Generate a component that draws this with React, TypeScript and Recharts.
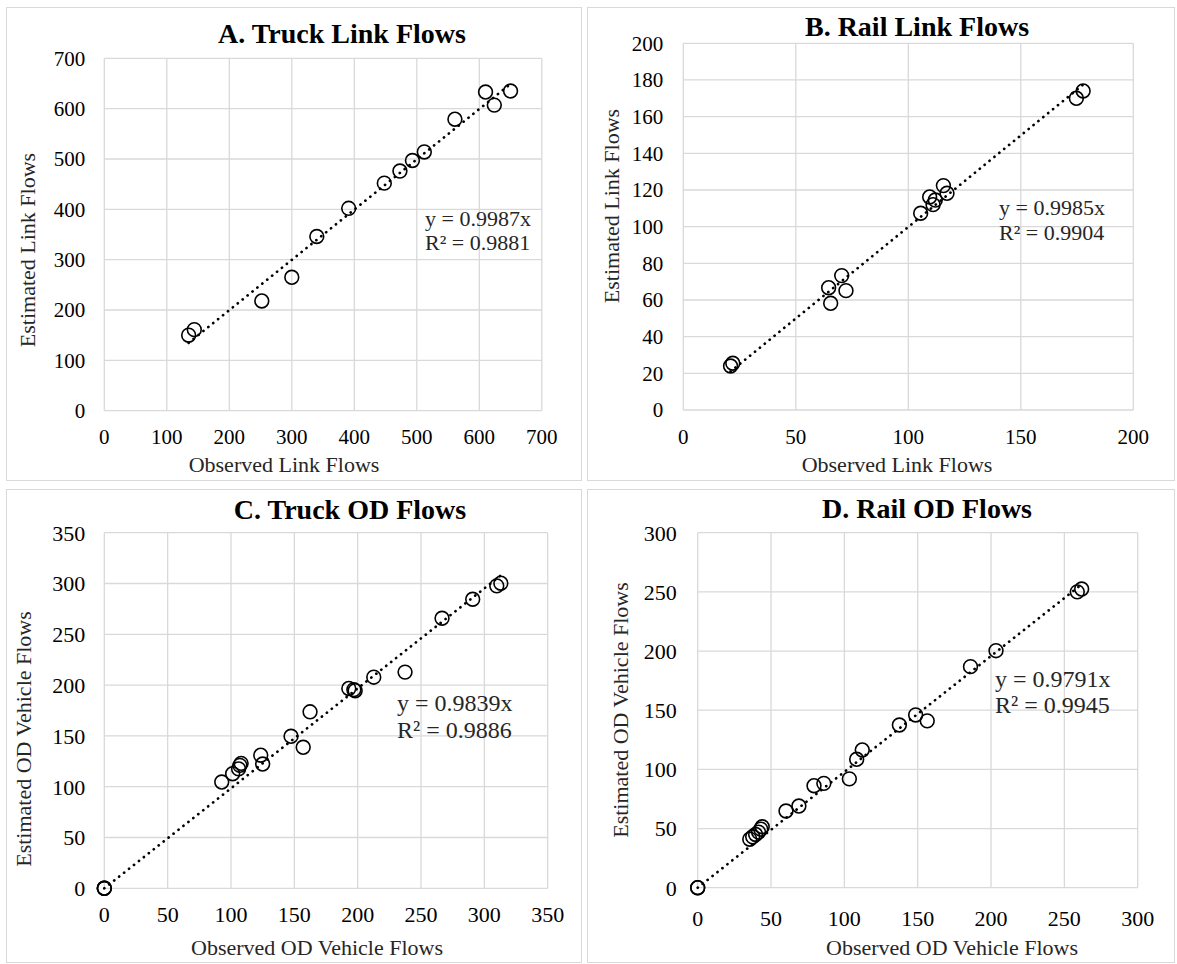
import React from 'react';
import { CartesianGrid, ReferenceLine, Scatter, ScatterChart, XAxis, YAxis } from 'recharts';

const FONT = '"Liberation Serif", "Times New Roman", Times, serif';
const GRID = '#d9d9d9';

// A. Truck link flows
const truckLinkObserved = [135, 144, 252, 300, 340, 391, 448, 473, 493, 512, 561, 610, 624, 650];
const truckLinkEstimated = [150, 161, 218, 265, 346, 402, 452, 476, 497, 514, 579, 633, 607, 635];
const truckLinkTicks = [0, 100, 200, 300, 400, 500, 600, 700];

// B. Rail link flows
const railLinkObserved = [21, 22, 64.6, 65.5, 70.4, 72.3, 105.5, 109.5, 111, 112, 115.6, 117.2, 174.7, 177.7];
const railLinkEstimated = [24, 25.5, 66.7, 58.2, 73.3, 65.1, 107.3, 116.2, 112, 114.5, 122.4, 118.2, 170, 174];
const railLinkXTicks = [0, 50, 100, 150, 200];
const railLinkYTicks = [0, 20, 40, 60, 80, 100, 120, 140, 160, 180, 200];

// C. Truck OD flows
const truckOdObserved = [0, 0, 0, 92.7, 101.3, 106, 107, 108, 123.5, 125, 147.4, 157, 162.4, 193, 197, 198, 212.7, 237.4, 266.6, 290.8, 309.8, 313];
const truckOdEstimated = [0, 0, 0, 104.6, 112.8, 117.5, 121, 123, 131, 122.3, 149.6, 138.8, 173.7, 196.7, 195.5, 194.5, 207.8, 212.8, 265.8, 284.5, 297.7, 300.3];
const truckOdTicks = [0, 50, 100, 150, 200, 250, 300, 350];

// D. Rail OD flows
const railOdObserved = [0, 0, 35.5, 37.5, 39.5, 41.5, 43, 44, 60.2, 69, 79.3, 86, 103.4, 108.4, 112.2, 137.5, 148.6, 156.5, 186, 203.4, 258.8, 261.8];
const railOdEstimated = [0, 0, 41, 43, 45, 47, 49.5, 51.5, 64.8, 69, 86.2, 88.2, 92, 108.5, 116.4, 137.5, 146, 141, 186.8, 200.3, 250, 252.4];
const railOdTicks = [0, 50, 100, 150, 200, 250, 300];

const titles = ['A. Truck Link Flows', 'B. Rail Link Flows', 'C. Truck OD Flows', 'D. Rail OD Flows'];
const xTitles = ['Observed Link Flows', 'Observed Link Flows', 'Observed OD Vehicle Flows', 'Observed OD Vehicle Flows'];
const yTitles = ['Estimated Link Flows', 'Estimated Link Flows', 'Estimated OD Vehicle Flows', 'Estimated OD Vehicle Flows'];
const slopes = [0.9987, 0.9985, 0.9839, 0.9791];
const rSquared = ['0.9881', '0.9904', '0.9886', '0.9945'];

const Y_W = 60;
const X_H = 40;

type Box = { left: number; top: number; w: number; h: number };
type Plot = { left: number; top: number; right: number; bottom: number };

interface PanelCfg {
  box: Box;
  plot: Plot;
  observed: number[];
  estimated: number[];
  xTicks: number[];
  yTicks: number[];
  xTickMargin: number;
  yTickMargin: number;
  tickFont: number;
  title: { x: number; y: number };
  xTitle: { x: number; y: number };
  yTitle: { x: number; y: number };
  eq: { x: number; y: number; size: number; gap: number };
}

const panels: PanelCfg[] = [
  {
    box: { left: 6, top: 7, w: 576, h: 474 },
    plot: { left: 104.3, top: 58.3, right: 541.8, bottom: 410.7 },
    observed: truckLinkObserved,
    estimated: truckLinkEstimated,
    xTicks: truckLinkTicks,
    yTicks: truckLinkTicks,
    xTickMargin: 18,
    yTickMargin: 19,
    tickFont: 21,
    title: { x: 342, y: 43 },
    xTitle: { x: 284, y: 472 },
    yTitle: { x: 35, y: 250 },
    eq: { x: 425, y: 226, size: 22, gap: 24 },
  },
  {
    box: { left: 587, top: 7, w: 588, h: 474 },
    plot: { left: 683.3, top: 43.3, right: 1133.3, bottom: 410 },
    observed: railLinkObserved,
    estimated: railLinkEstimated,
    xTicks: railLinkXTicks,
    yTicks: railLinkYTicks,
    xTickMargin: 19,
    yTickMargin: 20,
    tickFont: 21,
    title: { x: 917, y: 36 },
    xTitle: { x: 897, y: 472 },
    yTitle: { x: 619, y: 206 },
    eq: { x: 999, y: 215, size: 22, gap: 25 },
  },
  {
    box: { left: 6, top: 489, w: 576, h: 474 },
    plot: { left: 104.3, top: 532.7, right: 547.7, bottom: 888.3 },
    observed: truckOdObserved,
    estimated: truckOdEstimated,
    xTicks: truckOdTicks,
    yTicks: truckOdTicks,
    xTickMargin: 18,
    yTickMargin: 19,
    tickFont: 22,
    title: { x: 350, y: 519 },
    xTitle: { x: 317, y: 955 },
    yTitle: { x: 31, y: 739 },
    eq: { x: 397, y: 711, size: 24, gap: 26.5 },
  },
  {
    box: { left: 587, top: 489, w: 588, h: 474 },
    plot: { left: 697.7, top: 532.7, right: 1137.7, bottom: 887.7 },
    observed: railOdObserved,
    estimated: railOdEstimated,
    xTicks: railOdTicks,
    yTicks: railOdTicks,
    xTickMargin: 23,
    yTickMargin: 21,
    tickFont: 22,
    title: { x: 927, y: 518 },
    xTitle: { x: 952, y: 954.5 },
    yTitle: { x: 628, y: 710 },
    eq: { x: 995, y: 687, size: 24, gap: 26 },
  },
];

function Ring(props: any) {
  const { cx, cy } = props;
  if (cx == null || cy == null) return null;
  return <circle cx={cx} cy={cy} r={6.9} fill="none" stroke="#000" strokeWidth={1.6} />;
}

function makeTick(size: number, axis: 'x' | 'y') {
  return (props: any) => {
    const { x, y, payload } = props;
    return (
      <text
        x={x}
        y={y}
        dy={axis === 'x' ? '0.71em' : '0.355em'}
        textAnchor={axis === 'x' ? 'middle' : 'end'}
        fontFamily={FONT}
        fontSize={size}
        fill="#000"
      >
        {payload.value}
      </text>
    );
  };
}

function Panel({ cfg, slope }: { cfg: PanelCfg; slope: number }) {
  const { box, plot } = cfg;
  const points = cfg.observed.map((x, i) => ({ x, y: cfg.estimated[i] }));
  const xMin = Math.min(...cfg.observed);
  const xMax = Math.max(...cfg.observed);
  const margin = {
    left: plot.left - box.left - Y_W,
    top: plot.top - box.top,
    right: box.left + box.w - plot.right,
    bottom: box.top + box.h - plot.bottom - X_H,
  };
  return (
    <>
      <div
        style={{
          position: 'absolute',
          left: box.left,
          top: box.top,
          width: box.w,
          height: box.h,
          border: `1.5px solid ${GRID}`,
          boxSizing: 'border-box',
        }}
      />
      <div style={{ position: 'absolute', left: box.left, top: box.top }}>
        <ScatterChart width={box.w} height={box.h} margin={margin}>
          <CartesianGrid stroke={GRID} strokeWidth={1.3} />
          <XAxis
            type="number"
            dataKey="x"
            domain={[0, cfg.xTicks[cfg.xTicks.length - 1]]}
            ticks={cfg.xTicks}
            interval={0}
            height={X_H}
            tickLine={false}
            axisLine={false}
            tickSize={0}
            tickMargin={cfg.xTickMargin}
            tick={makeTick(cfg.tickFont, 'x')}
          />
          <YAxis
            type="number"
            dataKey="y"
            domain={[0, cfg.yTicks[cfg.yTicks.length - 1]]}
            ticks={cfg.yTicks}
            interval={0}
            width={Y_W}
            tickLine={false}
            axisLine={false}
            tickSize={0}
            tickMargin={cfg.yTickMargin}
            tick={makeTick(cfg.tickFont, 'y')}
          />
          <ReferenceLine
            segment={[
              { x: xMin, y: slope * xMin },
              { x: xMax, y: slope * xMax },
            ]}
            stroke="#000"
            strokeWidth={2.7}
            strokeDasharray="0.1 6.2"
            strokeLinecap="round"
          />
          <Scatter data={points} isAnimationActive={false} shape={Ring} />
        </ScatterChart>
      </div>
    </>
  );
}

export default function App() {
  return (
    <div style={{ position: 'absolute', left: 0, top: 0, width: 1177, height: 964, background: '#fff', fontFamily: FONT }}>
      {panels.map((p, i) => (
        <Panel key={i} cfg={p} slope={slopes[i]} />
      ))}
      <svg width={1177} height={964} style={{ position: 'absolute', left: 0, top: 0, pointerEvents: 'none' }}>
        {panels.map((p, i) => (
          <g key={i} fill="#000" fontFamily={FONT}>
            <text x={p.title.x} y={p.title.y} fontSize={28} fontWeight="bold" textAnchor="middle">
              {titles[i]}
            </text>
            <text x={p.xTitle.x} y={p.xTitle.y} fontSize={22} textAnchor="middle" fill="#262626">
              {xTitles[i]}
            </text>
            <text
              x={p.yTitle.x}
              y={p.yTitle.y}
              fontSize={22}
              textAnchor="middle"
              fill="#262626"
              transform={`rotate(-90 ${p.yTitle.x} ${p.yTitle.y})`}
            >
              {yTitles[i]}
            </text>
            <text x={p.eq.x} y={p.eq.y} fontSize={p.eq.size} fill="#262626">
              {`y = ${slopes[i]}x`}
            </text>
            <text x={p.eq.x} y={p.eq.y + p.eq.gap} fontSize={p.eq.size} fill="#262626">
              {`R² = ${rSquared[i]}`}
            </text>
          </g>
        ))}
      </svg>
    </div>
  );
}
